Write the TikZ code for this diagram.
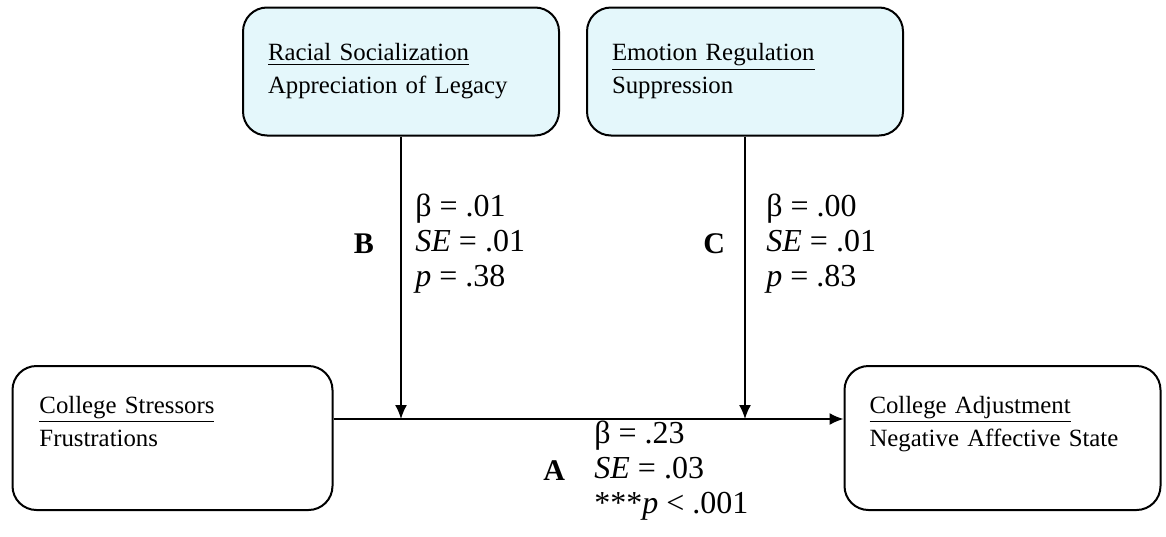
\documentclass[tikz,border=0pt]{standalone}
\usepackage{fontspec}
\setmainfont{Liberation Serif}
\usetikzlibrary{arrows.meta,positioning}
\definecolor{paleblue}{RGB}{228,247,251}

\begin{document}
\begin{tikzpicture}[>={Latex[length=7pt,width=6pt]}, x=0.5pt, y=-0.5pt]
        \tikzset{block/.style={draw,
                shape=rectangle,
                line width=1pt,
                align=left,
                rounded corners=12pt,
                text width=133pt,
                minimum width=158pt,
                minimum height=64pt,
                font=\fontsize{12.4}{16.5}\selectfont
            },
            moder/.style={block, fill=paleblue},
            stats/.style={align=left, anchor=west, inner sep=0pt,
                font=\fontsize{16}{17.5}\selectfont},
            tag/.style={font=\fontsize{15}{17}\selectfont\bfseries},
        }
\useasboundingbox (0,0) rectangle (1166,536);
        \node [moder] (racial) at (401,71.5)
            {\underline{Racial Socialization}\\Appreciation of Legacy};
        \node [moder] (emotion) at (745,71.5)
            {\underline{Emotion Regulation}\\Suppression};
        \node [block, minimum width=160pt, minimum height=72pt] (stress) at (172.5,438)
            {\underline{College Stressors}\\Frustrations\\ \mbox{}};
        \node [block, minimum width=158pt, minimum height=72pt] (adjust) at (1002.5,438)
            {\underline{College Adjustment}\\Negative Affective State\\ \mbox{}};
        \coordinate (jB) at (racial.south |- 0,419);
        \coordinate (jC) at (emotion.south |- 0,419);
        % labels
        \node [stats] (sB) at (415,243.5)
            {β = .01\\\textit{SE} = .01\\\textit{p} = .38};
        \node [stats] (sC) at (766,243.5)
            {β = .00\\\textit{SE} = .01\\\textit{p} = .83};
        \node [stats] (sA) at (594,471)
            {β = .23\\\textit{SE} = .03\\***\textit{p} < .001};
        \node [tag, left=17pt of sB] (tB) {B};
        \node [tag, left=17pt of sC] (tC) {C};
        \node [tag, left=11pt of sA] (tA) {A};
%% paths
\path[->, every edge/.append style={line width=0.8pt}]
    (stress.east |- jB) edge (adjust.west |- jB)
    (racial.south) edge (jB)
    (emotion.south) edge (jC)
;
\end{tikzpicture}
\end{document}
